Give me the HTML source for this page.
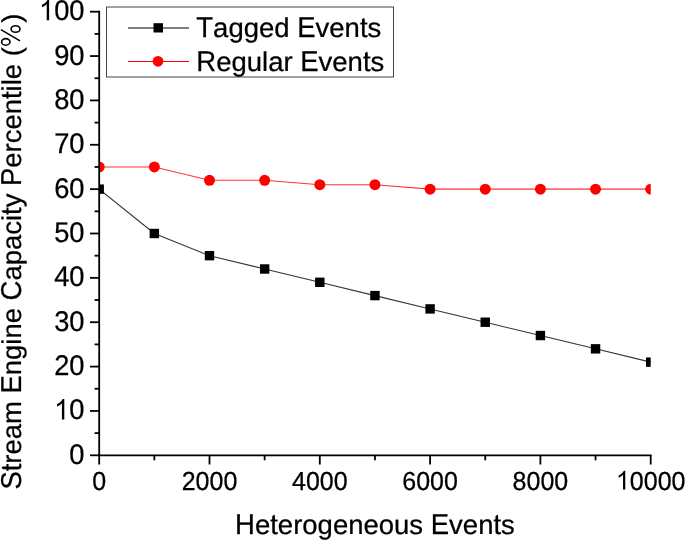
<!DOCTYPE html><html><head><meta charset="utf-8"><style>html,body{margin:0;padding:0;background:#fff;width:685px;height:540px;overflow:hidden}svg{display:block;will-change:transform}text{font-family:"Liberation Sans",sans-serif;font-kerning:none;text-rendering:geometricPrecision;white-space:pre}.t text,.t path{fill:#000;stroke:#000;stroke-width:0.25px;stroke-linejoin:round}</style></head><body>
<svg width="685" height="540" viewBox="0 0 685 540">
<rect width="685" height="540" fill="#fff"/>
<defs><clipPath id="c"><rect x="99.20" y="0" width="551.50" height="540"/></clipPath></defs>
<g clip-path="url(#c)">
<polyline fill="none" stroke="#ff0000" stroke-opacity="0.8" stroke-width="1.1" points="99.20,166.96 154.35,166.96 209.50,180.27 264.65,180.27 319.80,184.70 374.95,184.70 430.10,189.14 485.25,189.14 540.40,189.14 595.55,189.14 650.70,189.14"/>
<polyline fill="none" stroke="#000" stroke-opacity="0.8" stroke-width="1.1" points="99.20,189.14 154.35,233.50 209.50,255.68 264.65,268.99 319.80,282.30 374.95,295.60 430.10,308.91 485.25,322.22 540.40,335.53 595.55,348.84 650.70,362.14"/>
<circle cx="99.20" cy="166.96" r="5.5" fill="#ff0000"/>
<circle cx="154.35" cy="166.96" r="5.5" fill="#ff0000"/>
<circle cx="209.50" cy="180.27" r="5.5" fill="#ff0000"/>
<circle cx="264.65" cy="180.27" r="5.5" fill="#ff0000"/>
<circle cx="319.80" cy="184.70" r="5.5" fill="#ff0000"/>
<circle cx="374.95" cy="184.70" r="5.5" fill="#ff0000"/>
<circle cx="430.10" cy="189.14" r="5.5" fill="#ff0000"/>
<circle cx="485.25" cy="189.14" r="5.5" fill="#ff0000"/>
<circle cx="540.40" cy="189.14" r="5.5" fill="#ff0000"/>
<circle cx="595.55" cy="189.14" r="5.5" fill="#ff0000"/>
<circle cx="650.70" cy="189.14" r="5.5" fill="#ff0000"/>
<rect x="94.50" y="184.44" width="9.4" height="9.4" fill="#000"/>
<rect x="149.65" y="228.80" width="9.4" height="9.4" fill="#000"/>
<rect x="204.80" y="250.98" width="9.4" height="9.4" fill="#000"/>
<rect x="259.95" y="264.29" width="9.4" height="9.4" fill="#000"/>
<rect x="315.10" y="277.60" width="9.4" height="9.4" fill="#000"/>
<rect x="370.25" y="290.90" width="9.4" height="9.4" fill="#000"/>
<rect x="425.40" y="304.21" width="9.4" height="9.4" fill="#000"/>
<rect x="480.55" y="317.52" width="9.4" height="9.4" fill="#000"/>
<rect x="535.70" y="330.83" width="9.4" height="9.4" fill="#000"/>
<rect x="590.85" y="344.14" width="9.4" height="9.4" fill="#000"/>
<rect x="646.00" y="357.44" width="9.4" height="9.4" fill="#000"/>
</g>
<g stroke="#000" stroke-width="1.8" fill="none">
<line x1="99.20" y1="10.80" x2="99.20" y2="455.30"/>
<line x1="98.30" y1="455.30" x2="651.60" y2="455.30"/>
<line x1="90" y1="455.30" x2="99.20" y2="455.30"/>
<line x1="94.6" y1="433.12" x2="99.20" y2="433.12"/>
<line x1="90" y1="410.94" x2="99.20" y2="410.94"/>
<line x1="94.6" y1="388.76" x2="99.20" y2="388.76"/>
<line x1="90" y1="366.58" x2="99.20" y2="366.58"/>
<line x1="94.6" y1="344.40" x2="99.20" y2="344.40"/>
<line x1="90" y1="322.22" x2="99.20" y2="322.22"/>
<line x1="94.6" y1="300.04" x2="99.20" y2="300.04"/>
<line x1="90" y1="277.86" x2="99.20" y2="277.86"/>
<line x1="94.6" y1="255.68" x2="99.20" y2="255.68"/>
<line x1="90" y1="233.50" x2="99.20" y2="233.50"/>
<line x1="94.6" y1="211.32" x2="99.20" y2="211.32"/>
<line x1="90" y1="189.14" x2="99.20" y2="189.14"/>
<line x1="94.6" y1="166.96" x2="99.20" y2="166.96"/>
<line x1="90" y1="144.78" x2="99.20" y2="144.78"/>
<line x1="94.6" y1="122.60" x2="99.20" y2="122.60"/>
<line x1="90" y1="100.42" x2="99.20" y2="100.42"/>
<line x1="94.6" y1="78.24" x2="99.20" y2="78.24"/>
<line x1="90" y1="56.06" x2="99.20" y2="56.06"/>
<line x1="94.6" y1="33.88" x2="99.20" y2="33.88"/>
<line x1="90" y1="11.70" x2="99.20" y2="11.70"/>
<line x1="99.20" y1="455.30" x2="99.20" y2="464.5"/>
<line x1="154.35" y1="455.30" x2="154.35" y2="460.3"/>
<line x1="209.50" y1="455.30" x2="209.50" y2="464.5"/>
<line x1="264.65" y1="455.30" x2="264.65" y2="460.3"/>
<line x1="319.80" y1="455.30" x2="319.80" y2="464.5"/>
<line x1="374.95" y1="455.30" x2="374.95" y2="460.3"/>
<line x1="430.10" y1="455.30" x2="430.10" y2="464.5"/>
<line x1="485.25" y1="455.30" x2="485.25" y2="460.3"/>
<line x1="540.40" y1="455.30" x2="540.40" y2="464.5"/>
<line x1="595.55" y1="455.30" x2="595.55" y2="460.3"/>
<line x1="650.70" y1="455.30" x2="650.70" y2="464.5"/>
</g>
<g class="t">
<text x="69.32" y="0" font-size="27.3" transform="translate(0,463.80) scale(1,1.045)">0</text>
<path d="M763 0L583 0L583 1147Q518 1085 415 1024.5Q312 964 221 930L221 1104Q385 1181 493 1277.5Q601 1374 647 1466L763 1466Z" transform="translate(54.13,419.44) scale(0.01333,-0.01393)"/>
<text x="69.32" y="0" font-size="27.3" transform="translate(0,419.44) scale(1,1.045)">0</text>
<text x="54.13" y="0" font-size="27.3" transform="translate(0,375.08) scale(1,1.045)">20</text>
<text x="54.13" y="0" font-size="27.3" transform="translate(0,330.72) scale(1,1.045)">30</text>
<text x="54.13" y="0" font-size="27.3" transform="translate(0,286.36) scale(1,1.045)">40</text>
<text x="54.13" y="0" font-size="27.3" transform="translate(0,242.00) scale(1,1.045)">50</text>
<text x="54.13" y="0" font-size="27.3" transform="translate(0,197.64) scale(1,1.045)">60</text>
<text x="54.13" y="0" font-size="27.3" transform="translate(0,153.28) scale(1,1.045)">70</text>
<text x="54.13" y="0" font-size="27.3" transform="translate(0,108.92) scale(1,1.045)">80</text>
<text x="54.13" y="0" font-size="27.3" transform="translate(0,64.56) scale(1,1.045)">90</text>
<path d="M763 0L583 0L583 1147Q518 1085 415 1024.5Q312 964 221 930L221 1104Q385 1181 493 1277.5Q601 1374 647 1466L763 1466Z" transform="translate(38.95,20.20) scale(0.01333,-0.01393)"/>
<text x="54.13" y="0" font-size="27.3" transform="translate(0,20.20) scale(1,1.045)">00</text>
<text x="92.25" y="0" font-size="25" transform="translate(0,489.50) scale(1,1.045)">0</text>
<text x="181.69" y="0" font-size="25" transform="translate(0,489.50) scale(1,1.045)">2000</text>
<text x="291.99" y="0" font-size="25" transform="translate(0,489.50) scale(1,1.045)">4000</text>
<text x="402.29" y="0" font-size="25" transform="translate(0,489.50) scale(1,1.045)">6000</text>
<text x="512.59" y="0" font-size="25" transform="translate(0,489.50) scale(1,1.045)">8000</text>
<path d="M763 0L583 0L583 1147Q518 1085 415 1024.5Q312 964 221 930L221 1104Q385 1181 493 1277.5Q601 1374 647 1466L763 1466Z" transform="translate(615.94,489.50) scale(0.01221,-0.01276)"/>
<text x="629.84" y="0" font-size="25" transform="translate(0,489.50) scale(1,1.045)">0000</text>
<text x="235.07" y="0" font-size="27.5" transform="translate(0,533.70) scale(1,1.045)">H</text>
<text x="254.93" y="0" font-size="27.5" transform="translate(0,533.70) scale(1,0.990)">e</text>
<path d="M156 1000L156 1335L336 1445L336 1000Z" transform="translate(270.22,533.70) scale(0.01343,-0.01329)"/>
<text x="270.22" y="0" font-size="27.5" transform="translate(0,533.70) scale(1,0.990)">t</text>
<text x="277.86" y="0" font-size="27.5" transform="translate(0,533.70) scale(1,0.990)">erogeneous&#160;</text>
<text x="430.76" y="0" font-size="27.5" transform="translate(0,533.70) scale(1,1.045)">E</text>
<text x="449.10" y="0" font-size="27.5" transform="translate(0,533.70) scale(1,0.990)">ven</text>
<path d="M156 1000L156 1335L336 1445L336 1000Z" transform="translate(493.44,533.70) scale(0.01343,-0.01329)"/>
<text x="493.44" y="0" font-size="27.5" transform="translate(0,533.70) scale(1,0.990)">t</text>
<text x="501.08" y="0" font-size="27.5" transform="translate(0,533.70) scale(1,0.990)">s</text>
<g transform="translate(20.5,251.60) rotate(-90)"><text x="-238.00" y="0" font-size="27.45" transform="translate(0,0.00) scale(1,1.045)">S</text>
<path d="M156 1000L156 1335L336 1445L336 1000Z" transform="translate(-219.69,0.00) scale(0.01340,-0.01327)"/>
<text x="-219.69" y="0" font-size="27.45" transform="translate(0,0.00) scale(1,0.990)">t</text>
<text x="-212.07" y="0" font-size="27.45" transform="translate(0,0.00) scale(1,0.990)">ream&#160;</text>
<text x="-141.90" y="0" font-size="27.45" transform="translate(0,0.00) scale(1,1.045)">E</text>
<text x="-123.59" y="0" font-size="27.45" transform="translate(0,0.00) scale(1,0.990)">ngine&#160;</text>
<text x="-48.80" y="0" font-size="27.45" transform="translate(0,0.00) scale(1,1.045)">C</text>
<text x="-28.98" y="0" font-size="27.45" transform="translate(0,0.00) scale(1,0.990)">apaci</text>
<path d="M156 1000L156 1335L336 1445L336 1000Z" transform="translate(36.64,0.00) scale(0.01340,-0.01327)"/>
<text x="36.64" y="0" font-size="27.45" transform="translate(0,0.00) scale(1,0.990)">t</text>
<text x="44.27" y="0" font-size="27.45" transform="translate(0,0.00) scale(1,0.990)">y&#160;</text>
<text x="65.62" y="0" font-size="27.45" transform="translate(0,0.00) scale(1,1.045)">P</text>
<text x="83.93" y="0" font-size="27.45" transform="translate(0,0.00) scale(1,0.990)">ercen</text>
<path d="M156 1000L156 1335L336 1445L336 1000Z" transform="translate(152.60,0.00) scale(0.01340,-0.01327)"/>
<text x="152.60" y="0" font-size="27.45" transform="translate(0,0.00) scale(1,0.990)">t</text>
<text x="160.22" y="0" font-size="27.45" transform="translate(0,0.00) scale(1,0.990)">ile&#160;(</text>
<text x="228.86" y="0" font-size="27.45" transform="translate(0,0.00) scale(1,0.990)">)</text></g>
</g>
<g fill="none" stroke="#000"><ellipse cx="15.55" cy="29.0" rx="4.45" ry="3.3" stroke-width="1.6"/><ellipse cx="5.8" cy="41.9" rx="4.2" ry="3.3" stroke-width="1.6"/><line x1="0.9" y1="29.6" x2="20.0" y2="40.8" stroke-width="1.5"/></g>
<rect x="106.5" y="7" width="287" height="70" fill="#fff" stroke="#444" stroke-width="1"/>
<line x1="128" y1="28" x2="189" y2="28" stroke="#000" stroke-width="1"/>
<rect x="153.5" y="23.2" width="9.5" height="9.3" fill="#000"/>
<line x1="128" y1="61.5" x2="189" y2="61.5" stroke="#ff0000" stroke-width="1"/>
<circle cx="158" cy="61.3" r="5.4" fill="#ff0000"/>
<g class="t">
<text x="196.30" y="0" font-size="27.5" transform="translate(0,36.90) scale(1,1.045)">T</text>
<text x="213.10" y="0" font-size="27.5" transform="translate(0,36.90) scale(1,0.990)">agged&#160;</text>
<text x="297.21" y="0" font-size="27.5" transform="translate(0,36.90) scale(1,1.045)">E</text>
<text x="315.55" y="0" font-size="27.5" transform="translate(0,36.90) scale(1,0.990)">ven</text>
<path d="M156 1000L156 1335L336 1445L336 1000Z" transform="translate(359.89,36.90) scale(0.01343,-0.01329)"/>
<text x="359.89" y="0" font-size="27.5" transform="translate(0,36.90) scale(1,0.990)">t</text>
<text x="367.53" y="0" font-size="27.5" transform="translate(0,36.90) scale(1,0.990)">s</text>
<text x="196.30" y="0" font-size="27.5" transform="translate(0,70.70) scale(1,1.045)">R</text>
<text x="216.16" y="0" font-size="27.5" transform="translate(0,70.70) scale(1,0.990)">egular&#160;</text>
<text x="300.24" y="0" font-size="27.5" transform="translate(0,70.70) scale(1,1.045)">E</text>
<text x="318.59" y="0" font-size="27.5" transform="translate(0,70.70) scale(1,0.990)">ven</text>
<path d="M156 1000L156 1335L336 1445L336 1000Z" transform="translate(362.92,70.70) scale(0.01343,-0.01329)"/>
<text x="362.92" y="0" font-size="27.5" transform="translate(0,70.70) scale(1,0.990)">t</text>
<text x="370.57" y="0" font-size="27.5" transform="translate(0,70.70) scale(1,0.990)">s</text>
</g>
</svg></body></html>
